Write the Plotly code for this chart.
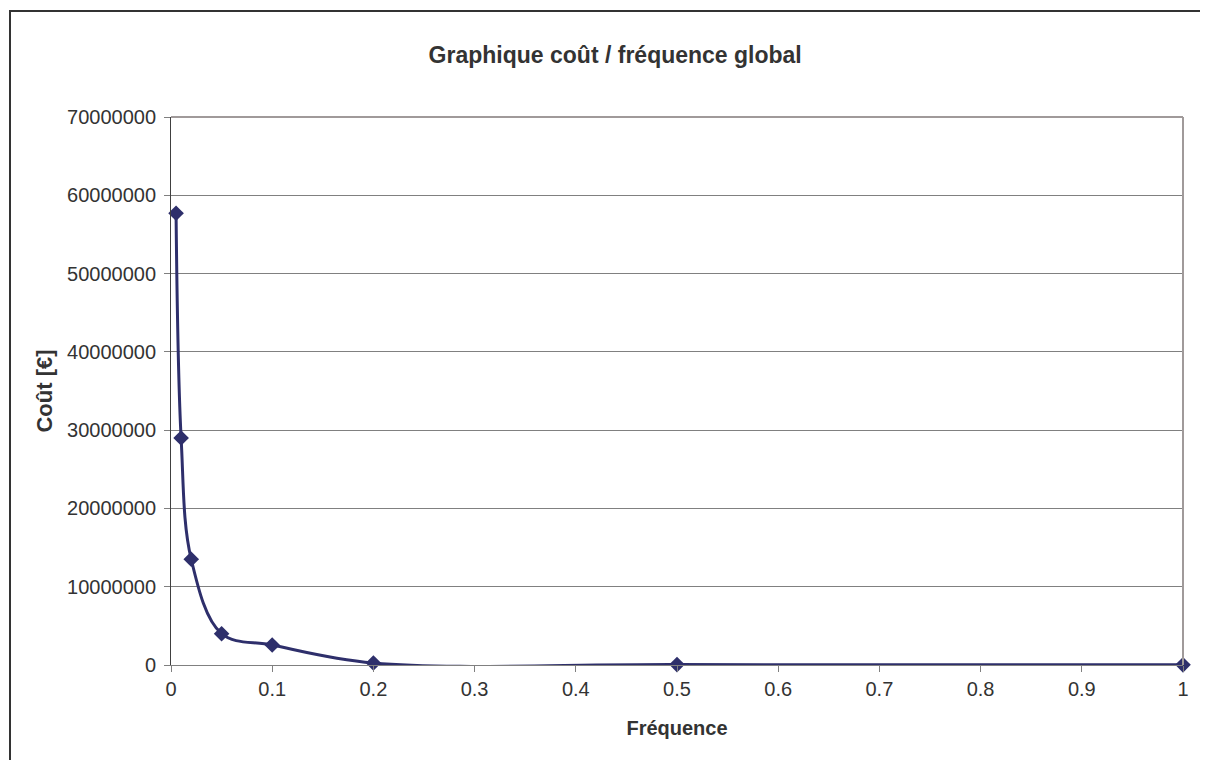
import plotly.graph_objects as go

# data
frequence = [0.005, 0.01, 0.02, 0.05, 0.1, 0.2, 0.5, 1.0]
cout = [57700000, 29000000, 13500000, 4000000, 2550000, 250000, 50000, 20000]

line_color = "#2e2f6b"
font_family = "Liberation Sans, Arial, sans-serif"

fig = go.Figure()

fig.add_trace(go.Scatter(
    x=frequence, y=cout,
    mode="lines+markers",
    line=dict(color=line_color, width=3, shape="spline", smoothing=1),
    marker=dict(symbol="diamond", size=12, color=line_color),
    showlegend=False,
    cliponaxis=False,
))

# page has an 8px body margin, so the figure is a bit smaller than the window
fig.update_layout(
    width=1200, height=752,
    margin=dict(l=163, r=25, t=109, b=95),
    paper_bgcolor="white",
    plot_bgcolor="white",
    font=dict(family=font_family, color="#333333", size=20),
    title=dict(
        text="<b>Graphique coût / fréquence global</b>",
        x=0.506, xref="container", xanchor="center",
        y=1 - 47 / 752, yref="container", yanchor="middle",
        font=dict(size=23, color="#333333"),
    ),
)

fig.update_xaxes(
    range=[0, 1], dtick=0.1, tick0=0,
    showgrid=False, zeroline=False,
    showline=True, linecolor="#808080", linewidth=1,
    ticks="outside", ticklen=6, tickcolor="#808080",
    tickfont=dict(size=20, color="#333333"),
    title=dict(text="<b>Fréquence</b>", font=dict(size=20, color="#333333"), standoff=21),
)
fig.update_yaxes(
    range=[0, 70000000], dtick=10000000, tick0=0,
    tickformat="d",
    showgrid=True, gridcolor="#808080", gridwidth=1,
    zeroline=False,
    showline=True, linecolor="#404040", linewidth=1,
    ticks="outside", ticklen=6, tickcolor="#808080",
    ticklabelstandoff=4,
    tickfont=dict(size=20, color="#333333"),
    title=dict(text="<b>Coût [€]</b>", font=dict(size=22, color="#333333"), standoff=8),
)

# plot area border (top and right)
fig.add_shape(type="line", xref="paper", yref="paper", x0=0, x1=1, y0=1, y1=1,
              line=dict(color="#a09a9a", width=2))
fig.add_shape(type="line", xref="paper", yref="paper", x0=1, x1=1, y0=0, y1=1,
              line=dict(color="#a09a9a", width=2))

# outer chart border
fig.add_shape(type="rect", xref="paper", yref="paper",
              x0=(10 - 171) / 1012, x1=(1230 - 171) / 1012,
              y0=(665 - 780) / 548, y1=(665 - 11) / 548,
              line=dict(color="#333333", width=2), layer="below")

fig.write_html("out.html")
